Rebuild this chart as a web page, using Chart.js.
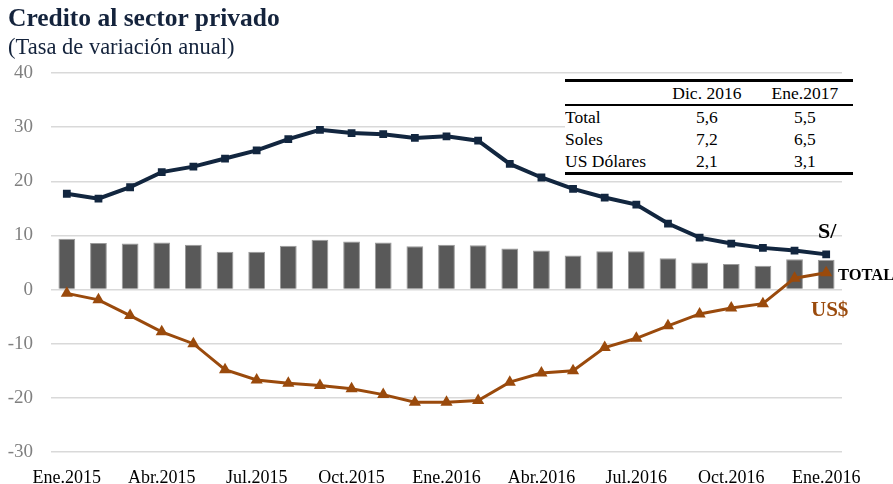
<!DOCTYPE html>
<html>
<head>
<meta charset="utf-8">
<script src="https://cdn.jsdelivr.net/npm/chart.js@4/dist/chart.umd.min.js"></script>
<style>
  html, body { margin: 0; padding: 0; background: #fff; }
  #wrap { position: relative; width: 893px; height: 484px; overflow: hidden; font-family: "Liberation Serif", "DejaVu Serif", serif; }
  #c { position: absolute; left: 0; top: 0; }
  .title { position: absolute; left: 8px; top: 3px; font-size: 25.5px; font-weight: bold; color: #14233c; white-space: nowrap; }
  .sub { position: absolute; left: 8px; top: 34px; font-size: 22.5px; color: #14233c; white-space: nowrap; }
  table { position: absolute; left: 565px; top: 79px; width: 288px; border-collapse: collapse; font-size: 17.5px; color: #000; background: #fff; }
  td { padding: 0; height: 22px; line-height: 22px; white-space: nowrap; }
  tr.h td { border-top: 3px solid #000; border-bottom: 2px solid #000; height: 22px; }
  tr.last td { border-bottom: 3px solid #000; }
  td.n { text-align: center; }
  .lab { position: absolute; font-weight: bold; white-space: nowrap; }
</style>
</head>
<body>
<div id="wrap">
  <canvas id="c" width="893" height="484"></canvas>
  <div class="title">Credito al sector privado</div>
  <div class="sub">(Tasa de variación anual)</div>
  <table id="tbl"></table>
  <div class="lab" style="left:818px; top:218px; font-size:22px; color:#000;">S/</div>
  <div class="lab" style="left:838px; top:265px; font-size:16.5px; color:#000;">TOTAL</div>
  <div class="lab" style="left:811px; top:297px; font-size:21px; color:#9a4a0c;">US$</div>
</div>
<script>
// ---- data ----
const categories = ["Ene.2015","Feb.2015","Mar.2015","Abr.2015","May.2015","Jun.2015","Jul.2015","Ago.2015","Set.2015","Oct.2015","Nov.2015","Dic.2015",
  "Ene.2016","Feb.2016","Mar.2016","Abr.2016","May.2016","Jun.2016","Jul.2016","Ago.2016","Set.2016","Oct.2016","Nov.2016","Dic.2016","Ene.2017"];
const tickLabels = ["Ene.2015","Abr.2015","Jul.2015","Oct.2015","Ene.2016","Abr.2016","Jul.2016","Oct.2016","Ene.2016"];
const totalValues = [9.4, 8.6, 8.5, 8.7, 8.3, 7.0, 7.0, 8.1, 9.2, 8.9, 8.7, 8.0, 8.3, 8.2, 7.6, 7.2, 6.3, 7.1, 7.1, 5.8, 5.0, 4.7, 4.4, 5.6, 5.5];
const solesValues = [17.7, 16.8, 18.9, 21.7, 22.7, 24.2, 25.7, 27.8, 29.5, 28.9, 28.7, 28.0, 28.3, 27.5, 23.2, 20.7, 18.6, 17.0, 15.7, 12.2, 9.6, 8.5, 7.7, 7.2, 6.5];
const dolaresValues = [-0.7, -1.9, -4.8, -7.8, -10.0, -14.8, -16.7, -17.3, -17.7, -18.3, -19.4, -20.8, -20.8, -20.5, -17.1, -15.4, -15.0, -10.7, -9.0, -6.7, -4.5, -3.4, -2.6, 2.1, 3.1];
const yTicks = [-30, -20, -10, 0, 10, 20, 30, 40];
const tableHeader = ["", "Dic. 2016", "Ene.2017"];
const tableRows = [["Total", "5,6", "5,5"], ["Soles", "7,2", "6,5"], ["US Dólares", "2,1", "3,1"]];

// ---- table ----
(function () {
  const t = document.getElementById('tbl');
  let html = '<tr class="h">' + tableHeader.map((h, i) => '<td' + (i ? ' class="n"' : '') + (i === 0 ? ' style="width:92px"' : '') + '>' + h + '</td>').join('') + '</tr>';
  tableRows.forEach((r, k) => {
    html += '<tr' + (k === tableRows.length - 1 ? ' class="last"' : '') + '>' + r.map((c, i) => '<td' + (i ? ' class="n"' : '') + '>' + c + '</td>').join('') + '</tr>';
  });
  t.innerHTML = html;
})();

// ---- chart ----
const tickIdx = categories.map((c, i) => i).filter(i => i % 3 === 0);
new Chart(document.getElementById('c'), {
  type: 'bar',
  data: {
    labels: categories,
    datasets: [
      { type: 'line', label: 'S/', data: solesValues, order: 1, borderColor: '#12263f', backgroundColor: '#12263f',
        borderWidth: 4, pointStyle: 'rect', pointRadius: 5.5, pointBorderWidth: 0, tension: 0 },
      { type: 'line', label: 'US$', data: dolaresValues, order: 2, borderColor: '#9a4a0c', backgroundColor: '#9a4a0c',
        borderWidth: 3, pointStyle: 'triangle', pointRadius: 7, pointBorderWidth: 0, tension: 0 },
      { type: 'bar', label: 'TOTAL', data: totalValues, order: 3, backgroundColor: '#595959', borderColor: '#9a9a9a',
        borderWidth: 1, barPercentage: 0.53, categoryPercentage: 1.0 }
    ]
  },
  options: {
    responsive: false,
    animation: false,
    devicePixelRatio: 1,
    layout: { padding: { left: 0, right: 51, top: 73, bottom: 0 } },
    plugins: { legend: { display: false }, tooltip: { enabled: false }, title: { display: false } },
    scales: {
      x: {
        grid: { display: false },
        border: { display: false },
        afterFit: s => { s.height = 32; },
        ticks: {
          autoSkip: false, maxRotation: 0, minRotation: 0, padding: 7,
          color: '#000', font: { family: 'Liberation Serif', size: 18 },
          callback: (v, i) => { const k = tickIdx.indexOf(i); return k >= 0 ? tickLabels[k] : ''; }
        }
      },
      y: {
        min: yTicks[0], max: yTicks[yTicks.length - 1],
        afterFit: s => { s.width = 51; },
        afterBuildTicks: s => { s.ticks = yTicks.map(v => ({ value: v })); },
        grid: { color: '#d9d9d9', lineWidth: 1.5, drawTicks: false },
        border: { display: false },
        ticks: { padding: 18, color: '#808080', font: { family: 'Liberation Serif', size: 19 } }
      }
    }
  }
});
</script>
</body>
</html>
